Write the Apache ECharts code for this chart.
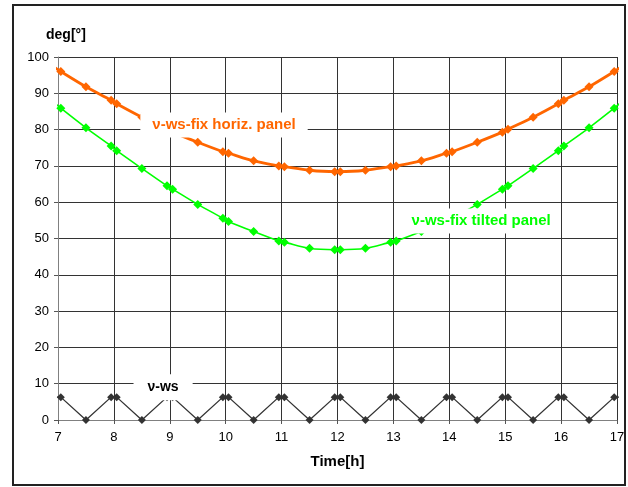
<!DOCTYPE html>
<html><head><meta charset="utf-8">
<script src="https://cdn.jsdelivr.net/npm/echarts@6/dist/echarts.min.js"></script>
<style>html,body{margin:0;padding:0;background:#fff}#c{width:628px;height:487px}</style>
</head><body><div id="c"></div>
<script>
var hours = [6.95, 7.05, 7.5, 7.95, 8.05, 8.5, 8.95, 9.05, 9.5, 9.95, 10.05, 10.5, 10.95, 11.05, 11.5, 11.95, 12.05, 12.5, 12.95, 13.05, 13.5, 13.95, 14.05, 14.5, 14.95, 15.05, 15.5, 15.95, 16.05, 16.5, 16.95, 17.05];
var horizPanel = [97.0, 96.0, 91.8, 88.1, 87.1, 83.4, 80.1, 79.3, 76.5, 73.9, 73.5, 71.4, 70.0, 69.8, 68.8, 68.4, 68.4, 68.8, 69.8, 70.0, 71.4, 73.5, 73.9, 76.5, 79.3, 80.1, 83.4, 87.1, 88.1, 91.8, 96.0, 97.0];
var tiltedPanel = [87.2, 85.9, 80.5, 75.5, 74.2, 69.3, 64.5, 63.6, 59.4, 55.6, 54.7, 51.9, 49.3, 49.0, 47.3, 46.9, 46.9, 47.3, 49.0, 49.3, 51.9, 54.7, 55.6, 59.4, 63.6, 64.5, 69.3, 74.2, 75.5, 80.5, 85.9, 87.2];
var vws = [6.3, 6.3, 0, 6.3, 6.3, 0, 6.3, 6.3, 0, 6.3, 6.3, 0, 6.3, 6.3, 0, 6.3, 6.3, 0, 6.3, 6.3, 0, 6.3, 6.3, 0, 6.3, 6.3, 0, 6.3, 6.3, 0, 6.3, 6.3];
var seriesNames = ['ν-ws-fix horiz. panel', 'ν-ws-fix tilted panel', 'ν-ws'];
var labelAnchors = [[9.97, 81.3], [14.57, 54.8], [8.88, 9.0]];
var xTicks = [7, 8, 9, 10, 11, 12, 13, 14, 15, 16, 17];
var yTicks = [0, 10, 20, 30, 40, 50, 60, 70, 80, 90, 100];

function pts(vals) {
  return hours.map(function (h, i) {
    var o = { value: [h, vals[i]] };
    if (i === 0 || i === hours.length - 1) o.symbol = 'none';
    return o;
  });
}
var FONT = 'Liberation Sans, Arial, sans-serif';
var chart = echarts.init(document.getElementById('c'));
chart.setOption({
  animation: false,
  backgroundColor: '#fff',
  grid: { left: 58, right: 11, top: 57, bottom: 67 },
  xAxis: {
    type: 'value', min: xTicks[0], max: xTicks[xTicks.length - 1], interval: 1,
    name: 'Time[h]', nameLocation: 'middle', nameGap: 34,
    nameTextStyle: { fontFamily: FONT, fontWeight: 'bold', fontSize: 15, color: '#000' },
    axisLine: { onZero: false, lineStyle: { color: '#808080', width: 1 } },
    axisTick: { show: true, length: 4, lineStyle: { color: '#555' } },
    axisLabel: { fontFamily: FONT, fontSize: 13, color: '#000', margin: 11 },
    splitLine: { show: true, lineStyle: { color: '#333', width: 1 } }
  },
  yAxis: {
    type: 'value', min: yTicks[0], max: yTicks[yTicks.length - 1], interval: 10,
    name: 'deg[°]', nameLocation: 'end', nameGap: 15,
    nameTextStyle: { fontFamily: FONT, fontWeight: 'bold', fontSize: 14, color: '#000', align: 'left', padding: [0, 0, 0, -12] },
    axisLine: { show: true, lineStyle: { color: '#808080', width: 1 } },
    axisTick: { show: true, length: 4, lineStyle: { color: '#555' } },
    axisLabel: { fontFamily: FONT, fontSize: 13, color: '#000', margin: 9 },
    splitLine: { show: true, lineStyle: { color: '#333', width: 1 } }
  },
  series: [
    { name: seriesNames[0], type: 'line', clip: false, smooth: 0.3, data: pts(horizPanel),
      symbol: 'diamond', symbolSize: 9, z: 4,
      lineStyle: { color: '#FF6600', width: 2.8 }, itemStyle: { color: '#FF6600' } },
    { name: seriesNames[1], type: 'line', clip: false, smooth: 0.3, data: pts(tiltedPanel),
      symbol: 'diamond', symbolSize: 9, z: 3,
      lineStyle: { color: '#00FF00', width: 1.6 }, itemStyle: { color: '#00FF00' } },
    { name: seriesNames[2], type: 'line', clip: false, data: pts(vws),
      symbol: 'diamond', symbolSize: 8, z: 3,
      lineStyle: { color: '#333', width: 1.3 }, itemStyle: { color: '#333' } }
  ]
});

var colors = ['#FF6600', '#00FF00', '#000'];
var sizes = [15, 15, 14];
var pads = [[5, 12, 5, 12], [5, 8, 5, 8], [8, 14, 4, 14]];
var g = [{
  type: 'rect', shape: { x: 13, y: 5, width: 612, height: 480 },
  style: { fill: 'none', stroke: '#222', lineWidth: 2 }, z: 200, silent: true
}];
labelAnchors.forEach(function (a, i) {
  var p = chart.convertToPixel({ gridIndex: 0 }, a);
  g.push({
    type: 'text', x: p[0], y: p[1], z: 150,
    style: {
      text: seriesNames[i], fill: colors[i], font: 'bold ' + sizes[i] + 'px ' + FONT,
      align: 'center', verticalAlign: 'middle', backgroundColor: '#fff', padding: pads[i]
    }
  });
});
chart.setOption({ graphic: g });
</script></body></html>
